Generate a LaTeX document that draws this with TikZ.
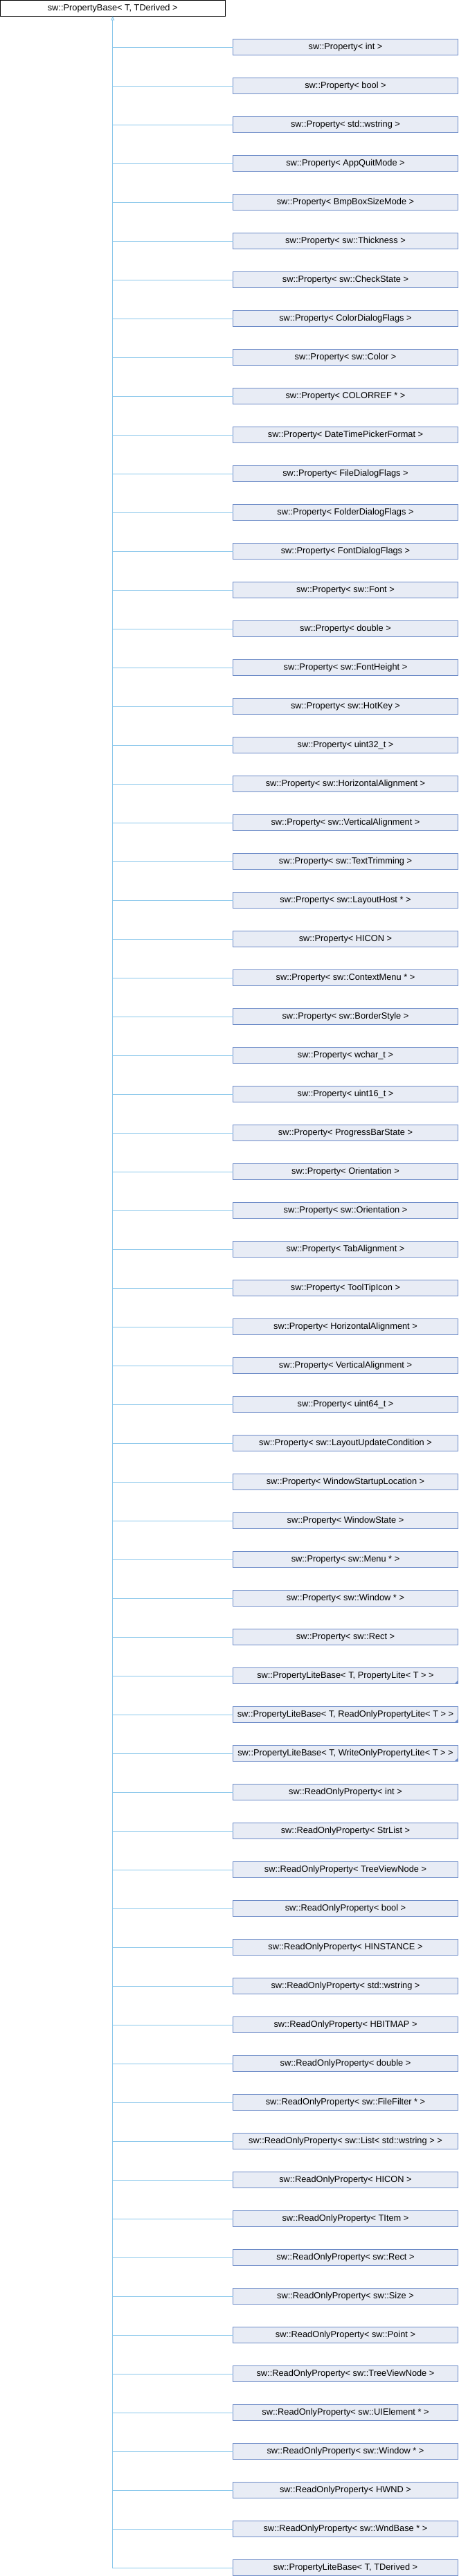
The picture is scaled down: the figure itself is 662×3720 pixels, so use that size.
\documentclass[tikz,border=0pt]{standalone}
\usepackage{fontspec}
\setmainfont{Liberation Sans}
\usetikzlibrary{positioning,arrows.meta}

\definecolor{edgeblue}{RGB}{140,200,235}
\definecolor{boxline}{RGB}{110,140,200}
\definecolor{boxfill}{RGB}{232,236,245}

\begin{document}
\begin{tikzpicture}[x=0.75pt, y=-0.75pt, node distance=24.75pt,
  every node/.style={font=\fontsize{9.6pt}{11pt}\selectfont, inner sep=0pt, outer sep=0pt}]
  \tikzstyle{base}=[draw=black, fill=white, line width=0.75pt, minimum width=243.75pt, minimum height=17.25pt]
  \tikzstyle{cls}=[draw=boxline, fill=boxfill, line width=0.75pt, minimum width=243.75pt, minimum height=17.25pt]
  \tikzstyle{inh}=[draw=edgeblue, line width=0.75pt]

\useasboundingbox (0,0) rectangle (662,3720);

\node [base] (pbase) at (162.75,11.75) {sw::PropertyBase< T, TDerived >};

\node [cls] (prop_1) at (499,68) {sw::Property< int >};
\node [cls, below=of prop_1] (prop_2) {sw::Property< bool >};
\node [cls, below=of prop_2] (prop_3) {sw::Property< std::wstring >};
\node [cls, below=of prop_3] (prop_4) {sw::Property< AppQuitMode >};
\node [cls, below=of prop_4] (prop_5) {sw::Property< BmpBoxSizeMode >};
\node [cls, below=of prop_5] (prop_6) {sw::Property< sw::Thickness >};
\node [cls, below=of prop_6] (prop_7) {sw::Property< sw::CheckState >};
\node [cls, below=of prop_7] (prop_8) {sw::Property< ColorDialogFlags >};
\node [cls, below=of prop_8] (prop_9) {sw::Property< sw::Color >};
\node [cls, below=of prop_9] (prop_10) {sw::Property< COLORREF * >};
\node [cls, below=of prop_10] (prop_11) {sw::Property< DateTimePickerFormat >};
\node [cls, below=of prop_11] (prop_12) {sw::Property< FileDialogFlags >};
\node [cls, below=of prop_12] (prop_13) {sw::Property< FolderDialogFlags >};
\node [cls, below=of prop_13] (prop_14) {sw::Property< FontDialogFlags >};
\node [cls, below=of prop_14] (prop_15) {sw::Property< sw::Font >};
\node [cls, below=of prop_15] (prop_16) {sw::Property< double >};
\node [cls, below=of prop_16] (prop_17) {sw::Property< sw::FontHeight >};
\node [cls, below=of prop_17] (prop_18) {sw::Property< sw::HotKey >};
\node [cls, below=of prop_18] (prop_19) {sw::Property< uint32\_t >};
\node [cls, below=of prop_19] (prop_20) {sw::Property< sw::HorizontalAlignment >};
\node [cls, below=of prop_20] (prop_21) {sw::Property< sw::VerticalAlignment >};
\node [cls, below=of prop_21] (prop_22) {sw::Property< sw::TextTrimming >};
\node [cls, below=of prop_22] (prop_23) {sw::Property< sw::LayoutHost * >};
\node [cls, below=of prop_23] (prop_24) {sw::Property< HICON >};
\node [cls, below=of prop_24] (prop_25) {sw::Property< sw::ContextMenu * >};
\node [cls, below=of prop_25] (prop_26) {sw::Property< sw::BorderStyle >};
\node [cls, below=of prop_26] (prop_27) {sw::Property< wchar\_t >};
\node [cls, below=of prop_27] (prop_28) {sw::Property< uint16\_t >};
\node [cls, below=of prop_28] (prop_29) {sw::Property< ProgressBarState >};
\node [cls, below=of prop_29] (prop_30) {sw::Property< Orientation >};
\node [cls, below=of prop_30] (prop_31) {sw::Property< sw::Orientation >};
\node [cls, below=of prop_31] (prop_32) {sw::Property< TabAlignment >};
\node [cls, below=of prop_32] (prop_33) {sw::Property< ToolTipIcon >};
\node [cls, below=of prop_33] (prop_34) {sw::Property< HorizontalAlignment >};
\node [cls, below=of prop_34] (prop_35) {sw::Property< VerticalAlignment >};
\node [cls, below=of prop_35] (prop_36) {sw::Property< uint64\_t >};
\node [cls, below=of prop_36] (prop_37) {sw::Property< sw::LayoutUpdateCondition >};
\node [cls, below=of prop_37] (prop_38) {sw::Property< WindowStartupLocation >};
\node [cls, below=of prop_38] (prop_39) {sw::Property< WindowState >};
\node [cls, below=of prop_39] (prop_40) {sw::Property< sw::Menu * >};
\node [cls, below=of prop_40] (prop_41) {sw::Property< sw::Window * >};
\node [cls, below=of prop_41] (prop_42) {sw::Property< sw::Rect >};
\node [cls, below=of prop_42] (lite_1) {sw::PropertyLiteBase< T, PropertyLite< T > >};
\node [cls, below=of lite_1] (lite_2) {sw::PropertyLiteBase< T, ReadOnlyPropertyLite< T > >};
\node [cls, below=of lite_2] (lite_3) {sw::PropertyLiteBase< T, WriteOnlyPropertyLite< T > >};
\node [cls, below=of lite_3] (ro_1) {sw::ReadOnlyProperty< int >};
\node [cls, below=of ro_1] (ro_2) {sw::ReadOnlyProperty< StrList >};
\node [cls, below=of ro_2] (ro_3) {sw::ReadOnlyProperty< TreeViewNode >};
\node [cls, below=of ro_3] (ro_4) {sw::ReadOnlyProperty< bool >};
\node [cls, below=of ro_4] (ro_5) {sw::ReadOnlyProperty< HINSTANCE >};
\node [cls, below=of ro_5] (ro_6) {sw::ReadOnlyProperty< std::wstring >};
\node [cls, below=of ro_6] (ro_7) {sw::ReadOnlyProperty< HBITMAP >};
\node [cls, below=of ro_7] (ro_8) {sw::ReadOnlyProperty< double >};
\node [cls, below=of ro_8] (ro_9) {sw::ReadOnlyProperty< sw::FileFilter * >};
\node [cls, below=of ro_9] (ro_10) {sw::ReadOnlyProperty< sw::List< std::wstring > >};
\node [cls, below=of ro_10] (ro_11) {sw::ReadOnlyProperty< HICON >};
\node [cls, below=of ro_11] (ro_12) {sw::ReadOnlyProperty< TItem >};
\node [cls, below=of ro_12] (ro_13) {sw::ReadOnlyProperty< sw::Rect >};
\node [cls, below=of ro_13] (ro_14) {sw::ReadOnlyProperty< sw::Size >};
\node [cls, below=of ro_14] (ro_15) {sw::ReadOnlyProperty< sw::Point >};
\node [cls, below=of ro_15] (ro_16) {sw::ReadOnlyProperty< sw::TreeViewNode >};
\node [cls, below=of ro_16] (ro_17) {sw::ReadOnlyProperty< sw::UIElement * >};
\node [cls, below=of ro_17] (ro_18) {sw::ReadOnlyProperty< sw::Window * >};
\node [cls, below=of ro_18] (ro_19) {sw::ReadOnlyProperty< HWND >};
\node [cls, below=of ro_19] (ro_20) {sw::ReadOnlyProperty< sw::WndBase * >};
\node [cls, below=of ro_20] (litebase) {sw::PropertyLiteBase< T, TDerived >};

% folded corners on the lite bases
\fill [boxline] (lite_1.south east) -- ++(-5,0) -- ++(5,-5) -- cycle;
\fill [boxline] (lite_2.south east) -- ++(-5,0) -- ++(5,-5) -- cycle;
\fill [boxline] (lite_3.south east) -- ++(-5,0) -- ++(5,-5) -- cycle;

% trunk with the inheritance arrow
\draw [inh, -{Triangle[open, length=4.5pt, width=3.75pt]}] (litebase.west) -| (pbase.south);

\draw [inh] (prop_1.west) -- (prop_1.west -| pbase.south);
\draw [inh] (prop_2.west) -- (prop_2.west -| pbase.south);
\draw [inh] (prop_3.west) -- (prop_3.west -| pbase.south);
\draw [inh] (prop_4.west) -- (prop_4.west -| pbase.south);
\draw [inh] (prop_5.west) -- (prop_5.west -| pbase.south);
\draw [inh] (prop_6.west) -- (prop_6.west -| pbase.south);
\draw [inh] (prop_7.west) -- (prop_7.west -| pbase.south);
\draw [inh] (prop_8.west) -- (prop_8.west -| pbase.south);
\draw [inh] (prop_9.west) -- (prop_9.west -| pbase.south);
\draw [inh] (prop_10.west) -- (prop_10.west -| pbase.south);
\draw [inh] (prop_11.west) -- (prop_11.west -| pbase.south);
\draw [inh] (prop_12.west) -- (prop_12.west -| pbase.south);
\draw [inh] (prop_13.west) -- (prop_13.west -| pbase.south);
\draw [inh] (prop_14.west) -- (prop_14.west -| pbase.south);
\draw [inh] (prop_15.west) -- (prop_15.west -| pbase.south);
\draw [inh] (prop_16.west) -- (prop_16.west -| pbase.south);
\draw [inh] (prop_17.west) -- (prop_17.west -| pbase.south);
\draw [inh] (prop_18.west) -- (prop_18.west -| pbase.south);
\draw [inh] (prop_19.west) -- (prop_19.west -| pbase.south);
\draw [inh] (prop_20.west) -- (prop_20.west -| pbase.south);
\draw [inh] (prop_21.west) -- (prop_21.west -| pbase.south);
\draw [inh] (prop_22.west) -- (prop_22.west -| pbase.south);
\draw [inh] (prop_23.west) -- (prop_23.west -| pbase.south);
\draw [inh] (prop_24.west) -- (prop_24.west -| pbase.south);
\draw [inh] (prop_25.west) -- (prop_25.west -| pbase.south);
\draw [inh] (prop_26.west) -- (prop_26.west -| pbase.south);
\draw [inh] (prop_27.west) -- (prop_27.west -| pbase.south);
\draw [inh] (prop_28.west) -- (prop_28.west -| pbase.south);
\draw [inh] (prop_29.west) -- (prop_29.west -| pbase.south);
\draw [inh] (prop_30.west) -- (prop_30.west -| pbase.south);
\draw [inh] (prop_31.west) -- (prop_31.west -| pbase.south);
\draw [inh] (prop_32.west) -- (prop_32.west -| pbase.south);
\draw [inh] (prop_33.west) -- (prop_33.west -| pbase.south);
\draw [inh] (prop_34.west) -- (prop_34.west -| pbase.south);
\draw [inh] (prop_35.west) -- (prop_35.west -| pbase.south);
\draw [inh] (prop_36.west) -- (prop_36.west -| pbase.south);
\draw [inh] (prop_37.west) -- (prop_37.west -| pbase.south);
\draw [inh] (prop_38.west) -- (prop_38.west -| pbase.south);
\draw [inh] (prop_39.west) -- (prop_39.west -| pbase.south);
\draw [inh] (prop_40.west) -- (prop_40.west -| pbase.south);
\draw [inh] (prop_41.west) -- (prop_41.west -| pbase.south);
\draw [inh] (prop_42.west) -- (prop_42.west -| pbase.south);
\draw [inh] (lite_1.west) -- (lite_1.west -| pbase.south);
\draw [inh] (lite_2.west) -- (lite_2.west -| pbase.south);
\draw [inh] (lite_3.west) -- (lite_3.west -| pbase.south);
\draw [inh] (ro_1.west) -- (ro_1.west -| pbase.south);
\draw [inh] (ro_2.west) -- (ro_2.west -| pbase.south);
\draw [inh] (ro_3.west) -- (ro_3.west -| pbase.south);
\draw [inh] (ro_4.west) -- (ro_4.west -| pbase.south);
\draw [inh] (ro_5.west) -- (ro_5.west -| pbase.south);
\draw [inh] (ro_6.west) -- (ro_6.west -| pbase.south);
\draw [inh] (ro_7.west) -- (ro_7.west -| pbase.south);
\draw [inh] (ro_8.west) -- (ro_8.west -| pbase.south);
\draw [inh] (ro_9.west) -- (ro_9.west -| pbase.south);
\draw [inh] (ro_10.west) -- (ro_10.west -| pbase.south);
\draw [inh] (ro_11.west) -- (ro_11.west -| pbase.south);
\draw [inh] (ro_12.west) -- (ro_12.west -| pbase.south);
\draw [inh] (ro_13.west) -- (ro_13.west -| pbase.south);
\draw [inh] (ro_14.west) -- (ro_14.west -| pbase.south);
\draw [inh] (ro_15.west) -- (ro_15.west -| pbase.south);
\draw [inh] (ro_16.west) -- (ro_16.west -| pbase.south);
\draw [inh] (ro_17.west) -- (ro_17.west -| pbase.south);
\draw [inh] (ro_18.west) -- (ro_18.west -| pbase.south);
\draw [inh] (ro_19.west) -- (ro_19.west -| pbase.south);
\draw [inh] (ro_20.west) -- (ro_20.west -| pbase.south);

\end{tikzpicture}
\end{document}
